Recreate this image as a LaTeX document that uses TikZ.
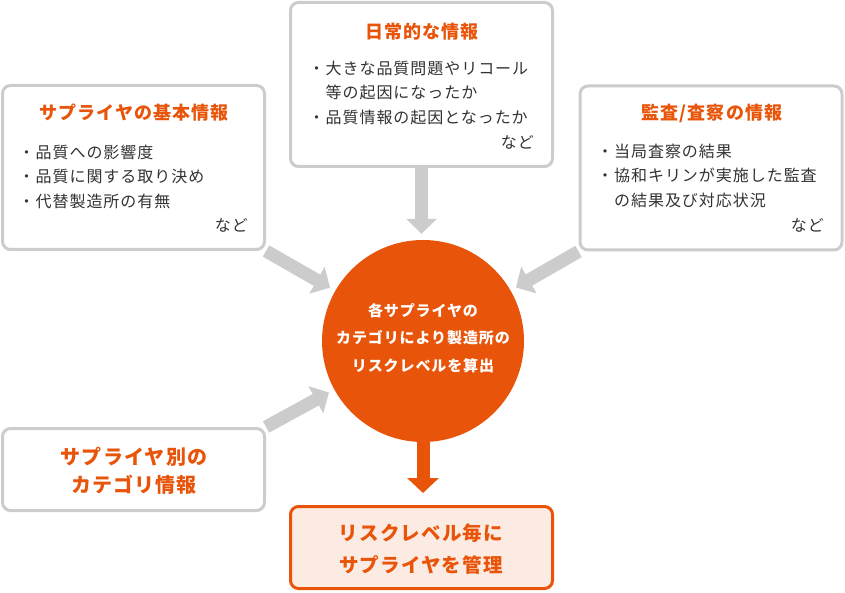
\documentclass[tikz,border=0pt]{standalone}
\usepackage{fontspec}
\setmainfont[LetterSpace=6]{Noto Sans CJK JP}
\usetikzlibrary{arrows.meta, backgrounds}
\definecolor{riskorange}{HTML}{E8550A}
\definecolor{boxgray}{HTML}{CCCCCC}
\definecolor{textgray}{HTML}{333333}
\definecolor{palefill}{HTML}{FCEBE2}

\tikzset{
  infobox/.style={draw=boxgray, line width=3pt, rounded corners=8pt, fill=white, minimum width=262pt, minimum height=164pt, inner sep=0pt},
  catbox/.style={infobox, minimum height=82pt},
  boxtitle/.style={text=riskorange, font=\fontsize{18}{22}\selectfont\bfseries, inner sep=0pt},
  boxbody/.style={text=textgray, align=left, font=\fontsize{16}{24.5}\selectfont, inner sep=0pt},
  bigtext/.style={text=riskorange, align=center, font=\fontsize{20}{28}\selectfont\bfseries, inner sep=0pt},
  grayarrow/.style={draw=boxgray, line width=13pt, -{Triangle[length=15pt, width=30pt]}, shorten >=6pt},
  orangearrow/.style={draw=riskorange, line width=13pt, -{Triangle[length=15pt, width=31pt]}, shorten >=12pt}
}

\begin{document}
\begin{tikzpicture}[x=1pt, y=-1pt]
\useasboundingbox (0,0) rectangle (845,593);

\node[infobox] (kihon) at (133.5,167.5) {};
\node[boxtitle] (kihontitle) at (134,113) {サプライヤの基本情報};
\node[boxbody, anchor=west] (kihonlist) at (18.5,176.5) {・品質への影響度\\・品質に関する取り決め\\・代替製造所の有無};
\node[boxbody, anchor=east] (kihonetc) at (248,225) {など};

\node[infobox] (nichijo) at (421.5,84.5) {};
\node[boxtitle] (nichijotitle) at (422,32) {日常的な情報};
\node[boxbody, anchor=west] (nichijolist) at (308.5,92.5) {・大きな品質問題やリコール\\　等の起因になったか\\・品質情報の起因となったか};
\node[boxbody, anchor=east] (nichijoetc) at (534,142) {など};

\node[infobox] (kansa) at (711,168) {};
\node[boxtitle] (kansatitle) at (712,113) {監査/査察の情報};
\node[boxbody, anchor=west] (kansalist) at (597,175.5) {・当局査察の結果\\・協和キリンが実施した監査\\　の結果及び対応状況};
\node[boxbody, anchor=east] (kansaetc) at (824,225) {など};

\node[circle, fill=riskorange, minimum size=202pt, inner sep=0pt] (risk) at (423,341) {};
\node[align=center, text=white, font=\fontsize{15}{27.5}\selectfont\bfseries, inner sep=0pt] (risktext) at (423,338) {各サプライヤの\\カテゴリにより製造所の\\リスクレベルを算出};

\node[catbox] (betsu) at (133.5,469.5) {};
\node[bigtext] (betsutext) at (134,471) {サプライヤ別の\\カテゴリ情報};

\node[catbox, draw=riskorange, fill=palefill] (kanri) at (421.5,547.5) {};
\node[bigtext, font=\fontsize{19.5}{32}\selectfont\bfseries] (kanritext) at (421,549) {リスクレベル毎に\\サプライヤを管理};

\begin{pgfonlayer}{background}
\draw[grayarrow] (nichijo.south) -- (nichijo.south |- risk.north);
\draw[grayarrow] (kihon.south east) -- (risk);
\draw[grayarrow] (kansa.south west) -- (risk);
\draw[grayarrow] (betsu.north east) -- (risk);
\draw[orangearrow] (risk.south) -- (risk.south |- kanri.north);
\end{pgfonlayer}
\end{tikzpicture}
\end{document}
